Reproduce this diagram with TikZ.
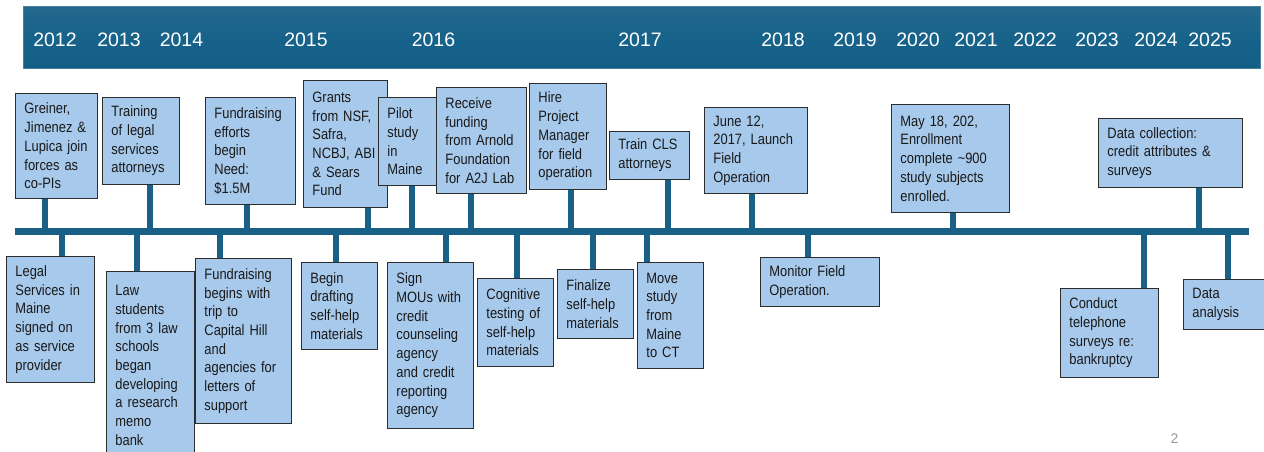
\documentclass[tikz,border=0pt]{standalone}
\usepackage{fontspec}
\setmainfont{Liberation Sans}
\newfontfamily\boxfont[FakeStretch=0.86]{Liberation Sans}
\usetikzlibrary{calc}

\definecolor{boxfill}{RGB}{167,201,235}
\definecolor{boxline}{RGB}{45,45,45}
\definecolor{rail}{RGB}{24,96,134}
\definecolor{bantop}{RGB}{78,121,149}
\definecolor{banmid}{RGB}{22,98,138}
\definecolor{banbot}{RGB}{12,88,126}
\definecolor{banedge}{RGB}{72,128,160}

\pgfdeclarelayer{back}
\pgfsetlayers{back,main}

\pgfdeclareverticalshading{bannershade}{100bp}{
  color(0bp)=(banbot); color(45bp)=(banmid); color(70bp)=(banmid!80!bantop); color(100bp)=(bantop)}

\tikzset{
  event/.style={draw=boxline, line width=0.9pt, fill=boxfill, anchor=north west,
    inner xsep=9pt, inner ysep=2pt, align=left, text=black!90,
    font=\boxfont\fontsize{15}{18.7}\selectfont},
  year/.style={text=white, anchor=base, inner sep=0pt,
    font=\fontsize{19.5}{22}\selectfont},
  railline/.style={draw=rail, line width=7.5pt},
  stem/.style={draw=rail, line width=5.5pt},
}

% box placed by its top-left corner (x,y) with width w and height h
\newcommand\evbox[6]{%
  \node[event, minimum width=#4pt, minimum height=#5pt, text width=#4pt-18pt]
    (#1) at (#2,#3) {#6};}

\begin{document}
\begin{tikzpicture}[x=1pt,y=-1pt]
\useasboundingbox (0,0) rectangle (1264,451);

% title band with the years
\shade[shading=bannershade] (23,6) rectangle (1260,68);
\draw[banedge, line width=0.8pt] (23,6) rectangle (1260,68);
\foreach \yr/\cx in {2012/55,2013/119,2014/181.5,2015/306,2016/433.5,2017/640,
  2018/783,2019/855,2020/918,2021/976,2022/1035,2023/1097,2024/1156,2025/1210}
  \node[year] (y\yr) at (\cx,46) {\yr};

% events above the rail
\evbox{greiner}{15}{93}{82}{105}{Greiner,\\Jimenez \&\\Lupica join\\forces as\\co-PIs}
\evbox{training}{102}{97}{77}{87}{Training\\of legal\\services\\attorneys}
\evbox{fundeff}{205}{97}{90}{107}{Fundraising\\efforts\\begin\\Need:\\\$1.5M}
\evbox{grants}{303}{80}{84}{127}{Grants\\from NSF,\\Safra,\\NCBJ, ABI\\\& Sears\\Fund}
\evbox{pilot}{378}{97}{60}{88}{Pilot\\study\\in\\Maine}
\evbox{receive}{436}{87}{90}{106}{Receive\\funding\\from Arnold\\Foundation\\for A2J Lab}
\evbox{hire}{529}{83}{77}{106}{Hire\\Project\\Manager\\for field\\operation}
\evbox{traincls}{609}{131}{80}{48}{Train CLS\\attorneys}
\evbox{june}{704}{107}{103}{86}{June 12,\\2017, Launch\\Field\\Operation}
\evbox{may}{891}{104}{118}{108}{May 18, 202,\\Enrollment\\complete \textasciitilde900\\study subjects\\enrolled.}
\evbox{datacoll}{1098}{118}{144}{69}{Data collection:\\credit attributes \&\\surveys}

% events below the rail
\evbox{legal}{6}{256}{88}{126}{Legal\\Services in\\Maine\\signed on\\as service\\provider}
\evbox{lawstud}{106}{271}{88}{188}{Law\\students\\from 3 law\\schools\\began\\developing\\a research\\memo\\bank}
\evbox{fundbeg}{195}{258}{96}{165}{Fundraising\\begins with\\trip to\\Capital Hill\\and\\agencies for\\letters of\\support}
\evbox{drafting}{301}{262}{76}{87}{Begin\\drafting\\self-help\\materials}
\evbox{mous}{387}{262}{86}{166}{Sign\\MOUs with\\credit\\counseling\\agency\\and credit\\reporting\\agency}
\evbox{cognitive}{477}{278}{76}{88}{Cognitive\\testing of\\self-help\\materials}
\evbox{finalize}{557}{269}{76}{69}{Finalize\\self-help\\materials}
\evbox{move}{637}{262}{66}{106}{Move\\study\\from\\Maine\\to CT}
\evbox{monitor}{760}{257}{119}{49}{Monitor Field\\Operation.}
\evbox{conduct}{1060}{288}{98}{89}{Conduct\\telephone\\surveys re:\\bankruptcy}
\evbox{analysis}{1183}{279}{90}{50}{Data\\analysis}

% page number
\node[text=black!40, font=\fontsize{14}{16}\selectfont, anchor=base] (pageno) at (1174.5,443) {2};

% the rail and the stems joining each event to it
\begin{pgfonlayer}{back}
  \coordinate (rail-w) at (15,231.3);
  \coordinate (rail-e) at (1249,231.3);
  \draw[railline] (rail-w) -- (rail-e);
  \foreach \n/\x in {greiner/45,training/150,fundeff/247,grants/368,pilot/412,
    receive/471,hire/571,traincls/668,june/752,may/953,datacoll/1199} {
    \coordinate (s-\n) at (\x,231.3);
    \draw[stem] (s-\n) -- (s-\n |- \n.south);
  }
  \foreach \n/\x in {legal/62,lawstud/137,fundbeg/220,drafting/336,mous/446,
    cognitive/517,finalize/593,move/647,monitor/808,conduct/1144,analysis/1228} {
    \coordinate (s-\n) at (\x,231.3);
    \draw[stem] (s-\n) -- (s-\n |- \n.north);
  }
\end{pgfonlayer}
\end{tikzpicture}
\end{document}
